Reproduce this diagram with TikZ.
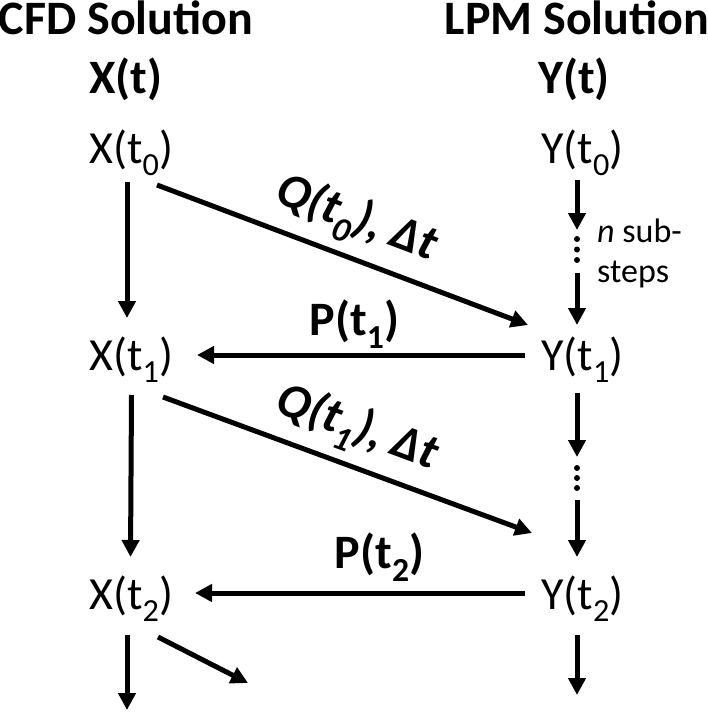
\documentclass[tikz,border=0pt]{standalone}
\usepackage{fontspec}
\setmainfont{Carlito}
\usetikzlibrary{arrows.meta,calc}
\begin{document}
\begin{tikzpicture}[x=1pt,y=-1pt,
  lbl/.style={font=\fontsize{46}{50}\selectfont, inner sep=0pt, anchor=base},
  hdr/.style={font=\fontsize{48}{52}\selectfont\bfseries, inner sep=0pt, anchor=base},
  plbl/.style={font=\fontsize{48}{52}\selectfont\bfseries, inner sep=0pt},
  qlbl/.style={font=\fontsize{49}{52}\selectfont\bfseries\itshape, inner sep=0pt},
  note/.style={font=\fontsize{34}{40}\selectfont, inner sep=0pt, align=left},
  arr/.style={line width=5pt, -{Triangle[length=17pt,width=17pt]}},
  vdot/.style={circle, fill, inner sep=0pt, minimum size=6pt}]
\useasboundingbox (0,0) rectangle (708,712);
% headers
\node[hdr] (cfd) at (126,34) {CFD Solution};
\node[hdr] (lpm) at (577,34) {LPM Solution};
\node[hdr] (xt) at (126,93) {X(t)};
\node[hdr] (yt) at (574,93) {Y(t)};
% states
\node[lbl] (x0) at (131.5,163) {X(t\textsubscript{0})};
\node[lbl] (y0) at (582.5,163) {Y(t\textsubscript{0})};
\node[lbl] (x1) at (131.5,370) {X(t\textsubscript{1})};
\node[lbl] (y1) at (582.5,370) {Y(t\textsubscript{1})};
\node[lbl] (x2) at (131.5,609) {X(t\textsubscript{2})};
\node[lbl] (y2) at (582.5,609) {Y(t\textsubscript{2})};
% CFD column
\draw[arr] ($(x0.base)+(-4.5,19)$) -- ($(x1.base)+(-4.5,-52)$);
\draw[arr] ($(x1.base)+(0,25)$) -- ($(x2.base)+(-1,-52)$);
% LPM column, first interval
\coordinate (a0) at (577,230);
\coordinate (b0) at (577,273);
\node[vdot] (d01) at (577,239) {};
\node[vdot] (d02) at (577,249.5) {};
\node[vdot] (d03) at (577,260) {};
\draw[arr] ($(y0.base)+(-5.5,17)$) -- (a0);
\draw[arr] (b0) -- ($(y1.base)+(-5.5,-45)$);
\node[note, anchor=north west] (sub) at (597,219) {\textit{n} sub-\\steps};
% LPM column, second interval
\coordinate (a1) at (577,457);
\coordinate (b1) at (577,500);
\node[vdot] (d11) at (577,468) {};
\node[vdot] (d12) at (577,478) {};
\node[vdot] (d13) at (577,488) {};
\draw[arr] ($(y1.base)+(-5.5,23)$) -- (a1);
\draw[arr] (b1) -- ($(y2.base)+(-5.5,-52)$);
% exchanges
\draw[arr] ($(x0.base)+(25.5,22)$) -- node[qlbl, sloped, above=9pt, pos=0.5] (q0lbl) {Q(t\textsubscript{0}), Δt} ($(y1.base)+(-54.5,-45)$);
\draw[arr] ($(y1.base)+(-57.5,-15)$) -- node[plbl, above=4pt, pos=0.52] (p1lbl) {P(t\textsubscript{1})} ($(x1.base)+(65.5,-15)$);
\draw[arr] ($(x1.base)+(31.5,27)$) -- node[qlbl, sloped, above=9pt, pos=0.49] (q1lbl) {Q(t\textsubscript{1}), Δt} ($(y2.base)+(-50.5,-76)$);
\draw[arr] ($(y2.base)+(-57.5,-16)$) -- node[plbl, above=9pt, pos=0.44] (p2lbl) {P(t\textsubscript{2})} ($(x2.base)+(63.5,-16)$);
% continuation below
\coordinate (xe) at (127,710);
\coordinate (xd) at (248,683);
\coordinate (ye) at (577,695);
\draw[arr] ($(x2.base)+(-4.5,26)$) -- (xe);
\draw[arr] ($(x2.base)+(26.5,28)$) -- (xd);
\draw[arr] ($(y2.base)+(-5.5,26)$) -- (ye);
\end{tikzpicture}
\end{document}
